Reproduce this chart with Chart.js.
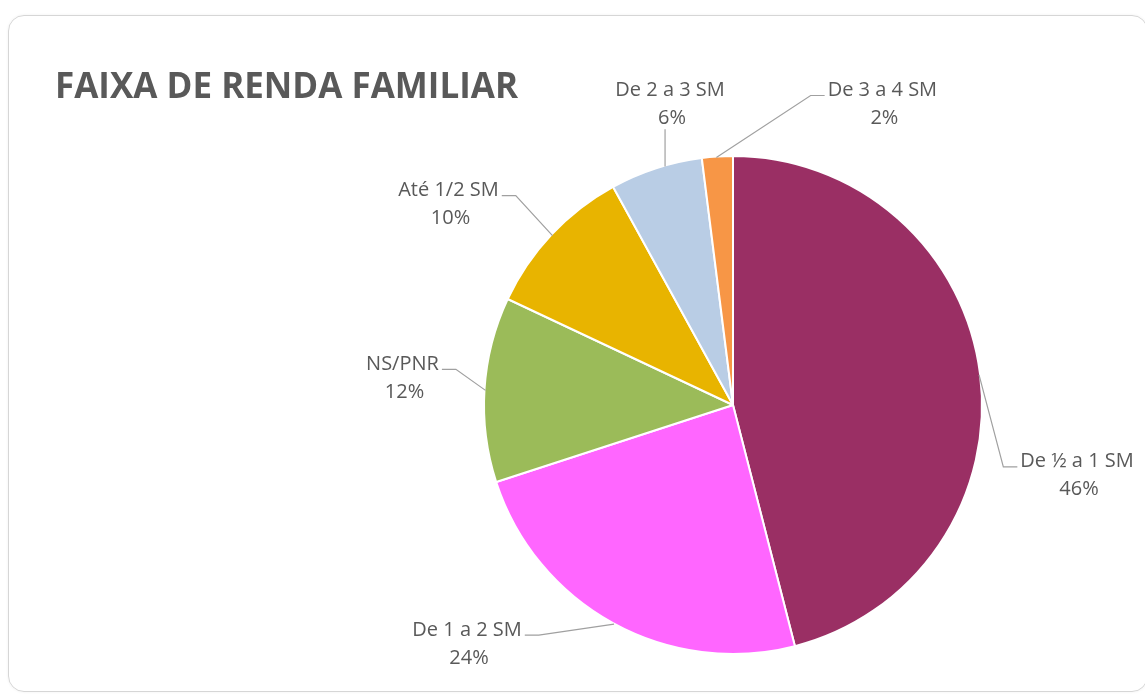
<!DOCTYPE html>
<html>
<head>
<meta charset="utf-8">
<script src="https://cdn.jsdelivr.net/npm/chart.js@4/dist/chart.umd.min.js"></script>
<style>
  html, body { margin: 0; padding: 0; background: #fff; }
  #wrap { position: relative; width: 1145px; height: 698px; overflow: hidden; }
  #card {
    position: absolute; left: 8px; top: 15px; width: 1140px; height: 677px;
    border: 1.5px solid #d6d6d6; border-radius: 16px; box-sizing: border-box;
    box-shadow: 0 0 3px rgba(0,0,0,0.06);
  }
  #chart { position: absolute; left: 0; top: 0; }
</style>
</head>
<body>
<div id="wrap">
  <div id="card"></div>
  <canvas id="chart" width="1145" height="698"></canvas>
</div>
<script>
const title = "FAIXA DE RENDA FAMILIAR";
const categories = ["De ½ a 1 SM", "De 1 a 2 SM", "NS/PNR", "Até 1/2 SM", "De 2 a 3 SM", "De 3 a 4 SM"];
const shares = [46, 24, 12, 10, 6, 2];
const sliceColors = ["#9a2f64", "#ff66ff", "#9bbb59", "#e8b400", "#b9cde5", "#f79646"];

// where each label sits, relative to the outer middle point of its slice
// side: which end of the text the leader line comes in at
const labelPlace = [
  { dx: 97, dy: 88, side: "left" },
  { dx: -146, dy: 7, side: "right" },
  { dx: -82, dy: -25, side: "right" },
  { dx: -103, dy: -44, side: "right" },
  { dx: 14, dy: -78, side: "below" },
  { dx: 165, dy: -66, side: "left" },
];

const textColor = "#595959";
const labelFont = "20px 'Open Sans', sans-serif";
const lineGap = 28;

const ctx = document.getElementById("chart").getContext("2d");

function drawTitle(chart) {
  const c = chart.ctx;
  c.save();
  c.font = "bold 35px 'Open Sans', sans-serif";
  c.fillStyle = textColor;
  c.textBaseline = "alphabetic";
  c.textAlign = "left";
  c.fillText(title, 55, 98);
  c.restore();
}

function drawLabel(chart, arc, i) {
  const c = chart.ctx;
  const p = arc.getProps(["x", "y", "startAngle", "endAngle", "outerRadius"], true);
  const mid = (p.startAngle + p.endAngle) / 2;
  const ex = p.x + Math.cos(mid) * p.outerRadius;
  const ey = p.y + Math.sin(mid) * p.outerRadius;
  const place = labelPlace[i];
  const lx = ex + place.dx;
  const ly = ey + place.dy;

  c.save();
  c.font = labelFont;
  const w = c.measureText(categories[i]).width;

  // leader line
  c.strokeStyle = "#a0a0a0";
  c.lineWidth = 1.2;
  c.beginPath();
  if (place.side === "below") {
    const vx = lx - 5;
    const dx = vx - p.x;
    const edgeY = p.y - Math.sqrt(p.outerRadius * p.outerRadius - dx * dx);
    c.moveTo(vx, ly + lineGap + 11);
    c.lineTo(vx, edgeY + 1);
  } else {
    const sgn = place.side === "left" ? -1 : 1;
    const endX = lx + sgn * (w / 2 + 3);
    const yy = ly + 5;
    c.moveTo(endX, yy);
    c.lineTo(endX + sgn * 14, yy);
    c.lineTo(ex + sgn * 1, ey + 1);
  }
  c.stroke();

  c.fillStyle = textColor;
  c.textAlign = "center";
  c.textBaseline = "middle";
  c.fillText(categories[i], lx, ly);
  c.fillText(shares[i] + "%", lx + 2, ly + lineGap);
  c.restore();
}

const chart = new Chart(ctx, {
  type: "pie",
  data: {
    labels: categories,
    datasets: [
      {
        data: shares,
        backgroundColor: sliceColors,
        borderColor: "#ffffff",
        borderWidth: 2,
      },
    ],
  },
  options: {
    responsive: false,
    animation: false,
    layout: {
      padding: { left: 483, right: 162, top: 155, bottom: 43 },
    },
    plugins: {
      legend: { display: false },
      tooltip: { enabled: false },
    },
  },
  plugins: [
    {
      id: "faixa_labels",
      afterDraw: (chart) => {
        drawTitle(chart);
        const meta = chart.getDatasetMeta(0);
        meta.data.forEach((arc, i) => drawLabel(chart, arc, i));
      },
    },
  ],
});
</script>
</body>
</html>
